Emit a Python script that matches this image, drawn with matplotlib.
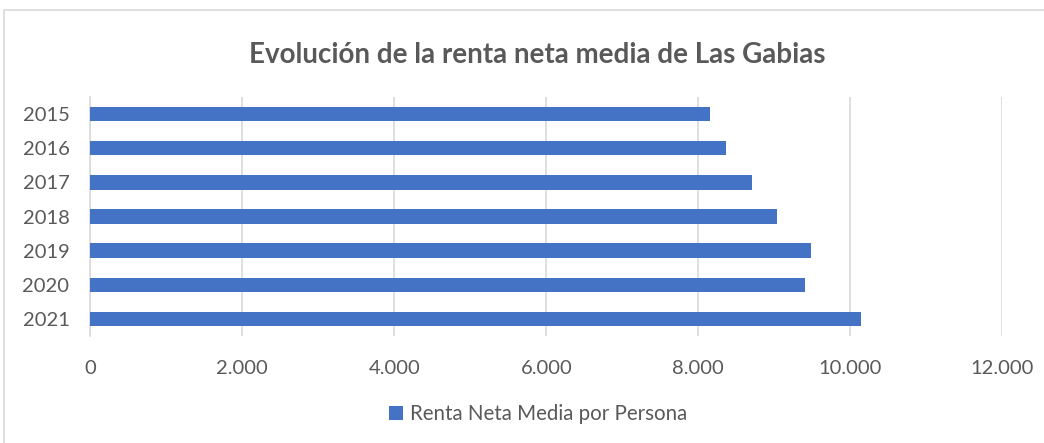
import matplotlib
matplotlib.use("Agg")
import matplotlib.pyplot as plt
from matplotlib.patches import Rectangle
from matplotlib.ticker import FuncFormatter

years = ["2015", "2016", "2017", "2018", "2019", "2020", "2021"]
renta = [8154, 8364, 8706, 9035, 9483, 9404, 10141]
series_name = "Renta Neta Media por Persona"
title = "Evolución de la renta neta media de Las Gabias"

W, H = 1044, 443
plt.rcParams['font.family'] = ['Lato', 'DejaVu Sans']
fig = plt.figure(figsize=(W / 100, H / 100), dpi=100)

# outer chart frame (partly clipped in the reference)
fig.patches.append(Rectangle((4 / W, -0.1), 1.2, (H - 10) / H + 0.1,
                             transform=fig.transFigure, fill=False,
                             edgecolor="#d9d9d9", linewidth=1.2))

left, right, top, bottom = 90.3, 1002.3, 97, 336
ax = fig.add_axes([left / W, 1 - bottom / H, (right - left) / W, (bottom - top) / H])

ypos = list(range(len(years)))
ax.barh(ypos, renta, height=0.42, color="#4472c4", zorder=3, label=series_name)
ax.set_yticks(ypos)
ax.set_yticklabels(years)
ax.set_ylim(len(years) - 0.5, -0.5)
ax.set_xlim(0, 12000)
ax.set_xticks(range(0, 12001, 2000))
ax.xaxis.set_major_formatter(FuncFormatter(lambda v, p: f"{int(v):,}".replace(",", ".")))
ax.grid(axis="x", color="#d9d9d9", linewidth=1.2, zorder=0)
for s in ["top", "right", "bottom"]:
    ax.spines[s].set_visible(False)
ax.spines["left"].set_color("#d9d9d9")
ax.spines["left"].set_linewidth(1.2)
ax.tick_params(axis="both", length=0, colors="#595959", labelsize=14.5)
ax.tick_params(axis="x", pad=17)
ax.tick_params(axis="y", pad=15)

fig.text(537 / W, 1 - 55 / H, title, ha="center", va="center",
         fontsize=20, fontweight="bold", color="#595959")

leg = fig.legend(loc="center", bbox_to_anchor=(538 / W, 1 - 414 / H), frameon=False,
                 fontsize=14.8, handlelength=0.7, handleheight=0.7, handletextpad=0.3)
for t in leg.get_texts():
    t.set_color("#595959")

fig.savefig("out.png", dpi=100)
